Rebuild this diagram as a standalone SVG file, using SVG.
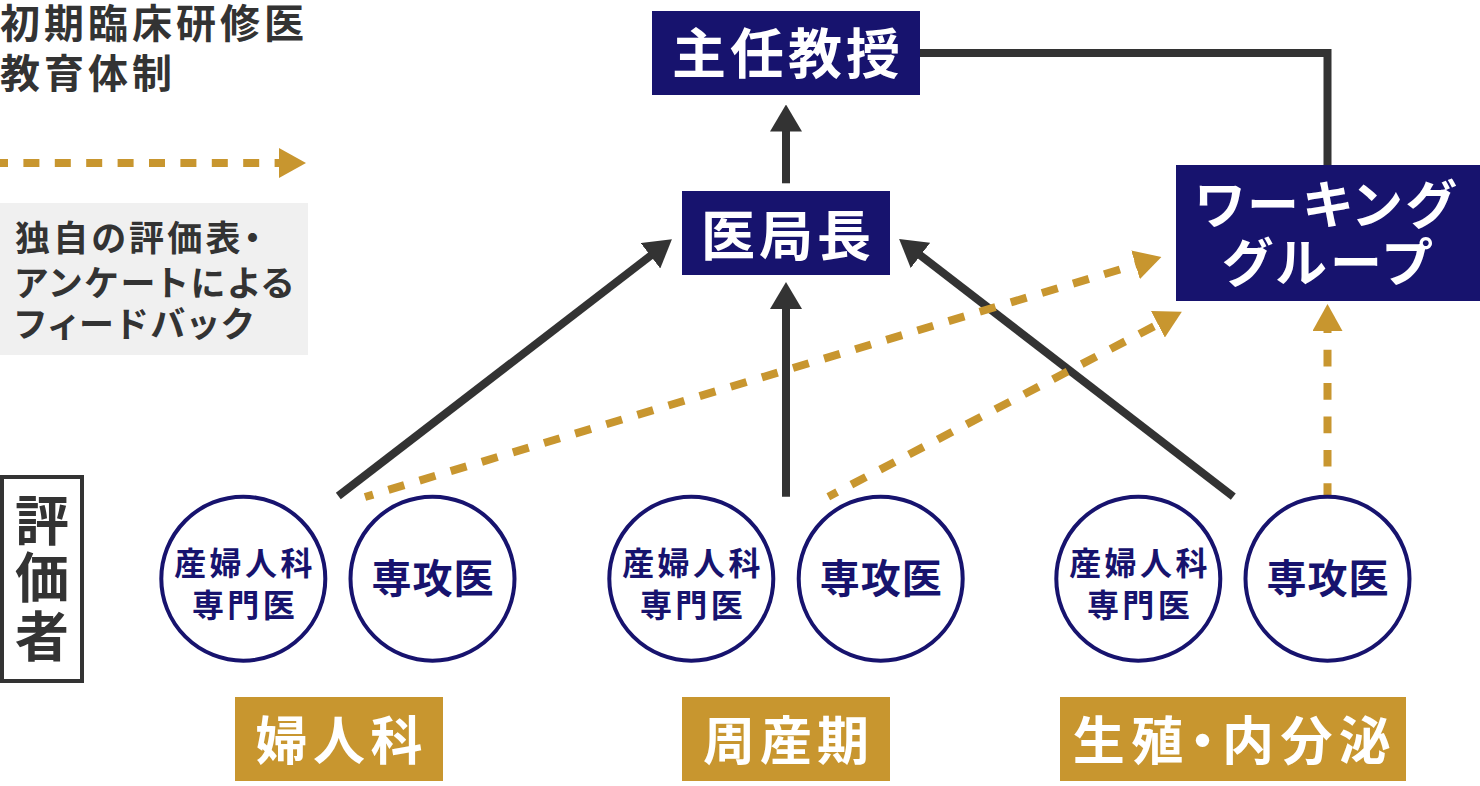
<svg xmlns="http://www.w3.org/2000/svg" width="1480" height="786" viewBox="0 0 1480 786">
<style>
text{font-family:"Noto Sans CJK JP","Noto Sans CJK SC",sans-serif;font-feature-settings:"palt";}
.box{fill:#17136e}
.wt{fill:#fff;font-weight:700;text-anchor:middle}
.gold{fill:#c8962f}
.circ{fill:#fff;stroke:#17136e;stroke-width:4}
.ct{fill:#17136e;font-weight:700;text-anchor:middle}
.dk{fill:#333;font-weight:700}
.solid{stroke:#333;stroke-width:8;fill:none}
.dash{stroke:#c8962f;stroke-width:8;fill:none}
</style>
<defs>
<marker id="ah" viewBox="0 0 27 32" refX="1" refY="16" markerWidth="27" markerHeight="32" markerUnits="userSpaceOnUse" orient="auto"><path d="M0,0 L27,16 L0,32Z" fill="#333"/></marker>
<marker id="ahg" viewBox="0 0 27 30" refX="1" refY="15" markerWidth="27" markerHeight="30" markerUnits="userSpaceOnUse" orient="auto"><path d="M0,0 L27,15 L0,30Z" fill="#c8962f"/></marker>
</defs>

<g id="title">
<text class="dk" font-size="40" letter-spacing="4"><tspan x="0" y="38">初期臨床研修医</tspan><tspan x="0" y="88">教育体制</tspan></text>
</g>

<g id="legend">
<path class="dash" d="M0,163 L280,163" stroke-dasharray="16 15.4" stroke-dashoffset="8" marker-end="url(#ahg)"/>
<rect x="0" y="203" width="308" height="152" fill="#f0f0f0"/>
<text class="dk" font-size="35" letter-spacing="3.2" font-weight="500"><tspan x="15" y="250.5">独自の評価表・</tspan><tspan x="15" y="295.5">アンケートによる</tspan><tspan x="15" y="337">フィードバック</tspan></text>
</g>

<g id="connectors">
<polyline class="solid" points="919,53 1327.5,53 1327.5,165"/>
<path class="solid" d="M786,183.3 L786,130.5" marker-end="url(#ah)"/>
<path class="solid" d="M786,496.7 L786,308" marker-end="url(#ah)"/>
<path class="solid" d="M338.3,496 L651.3,255.2" marker-end="url(#ah)"/>
<path class="solid" d="M1233.3,496.7 L919.7,254.8" marker-end="url(#ah)"/>
<path class="dash" d="M365,497 L1136.5,264.5" stroke-dasharray="16.5 16" stroke-dashoffset="8" marker-end="url(#ahg)"/>
<path class="dash" d="M828.3,496.7 L1158.8,323.8" stroke-dasharray="16.5 16" stroke-dashoffset="6.5" marker-end="url(#ahg)"/>
<path class="dash" d="M1327.5,495 L1327.5,330" stroke-dasharray="16.7 16.7" stroke-dashoffset="5" marker-end="url(#ahg)"/>
</g>

<g id="shunin">
<rect class="box" x="652" y="11" width="268" height="84"/>
<text class="wt" x="788" y="73.5" font-size="54" letter-spacing="4">主任教授</text>
</g>
<g id="ikyokucho">
<rect class="box" x="682" y="191" width="208" height="84"/>
<text class="wt" x="788" y="256" font-size="54" letter-spacing="4">医局長</text>
</g>
<g id="working">
<rect class="box" x="1176" y="165" width="304" height="136"/>
<text class="wt" font-size="52" letter-spacing="4.5"><tspan x="1327" y="224">ワーキング</tspan><tspan x="1328.5" y="281.5">グループ</tspan></text>
</g>

<g id="hyokasha">
<rect x="2" y="477" width="80" height="204" fill="none" stroke="#333" stroke-width="4"/>
<text class="dk" font-size="54" text-anchor="middle"><tspan x="42" y="540.5">評</tspan><tspan x="42" y="598">価</tspan><tspan x="42" y="657">者</tspan></text>
</g>

<g id="fujin-senmon">
<circle class="circ" cx="243.3" cy="578.7" r="82"/>
<text class="ct" font-size="32" letter-spacing="3.4"><tspan x="245" y="575">産婦人科</tspan><tspan x="245" y="616.5">専門医</tspan></text>
</g>
<g id="fujin-senkoi">
<circle class="circ" cx="432.5" cy="578.7" r="82"/>
<text class="ct" x="433" y="593" font-size="40" letter-spacing="1">専攻医</text>
</g>
<g id="shusan-senmon">
<circle class="circ" cx="691.3" cy="578.7" r="82"/>
<text class="ct" font-size="32" letter-spacing="3.4"><tspan x="693" y="575">産婦人科</tspan><tspan x="693" y="616.5">専門医</tspan></text>
</g>
<g id="shusan-senkoi">
<circle class="circ" cx="880.7" cy="578.7" r="82"/>
<text class="ct" x="881.2" y="593" font-size="40" letter-spacing="1">専攻医</text>
</g>
<g id="seishoku-senmon">
<circle class="circ" cx="1138.3" cy="578.7" r="82"/>
<text class="ct" font-size="32" letter-spacing="3.4"><tspan x="1140" y="575">産婦人科</tspan><tspan x="1140" y="616.5">専門医</tspan></text>
</g>
<g id="seishoku-senkoi">
<circle class="circ" cx="1327.5" cy="578.7" r="82"/>
<text class="ct" x="1328" y="593" font-size="40" letter-spacing="1">専攻医</text>
</g>

<g id="fujinka">
<rect class="gold" x="235" y="697" width="208" height="84"/>
<text class="wt" x="341.8" y="760" font-size="52" letter-spacing="5.5">婦人科</text>
</g>
<g id="shusanki">
<rect class="gold" x="682" y="697" width="208" height="84"/>
<text class="wt" x="788.5" y="760" font-size="52" letter-spacing="5">周産期</text>
</g>
<g id="seishoku">
<rect class="gold" x="1060" y="697" width="346" height="84"/>
<text class="wt" x="1235" y="760" font-size="52" letter-spacing="6.4">生殖・内分泌</text>
</g>
</svg>
